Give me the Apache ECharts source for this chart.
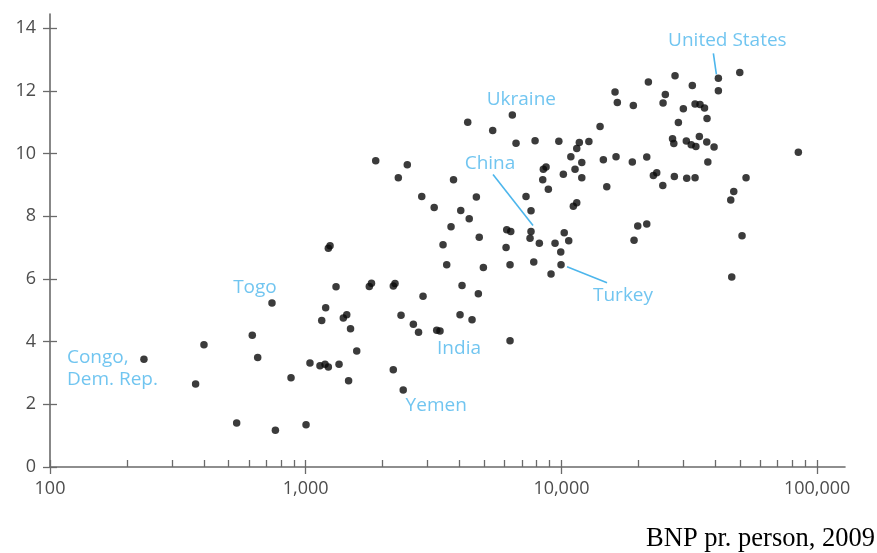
<!DOCTYPE html>
<html>
<head>
<meta charset="utf-8">
<script src="https://cdn.jsdelivr.net/npm/echarts@6/dist/echarts.min.js"></script>
<style>
  html, body { margin: 0; padding: 0; background: #fff; }
  #chart { width: 877px; height: 553px; }
</style>
</head>
<body>
<div id="chart"></div>
<script>
// GDP per person (log scale) against the index on the vertical axis, one dot per country
const gdp = [
  400, 371, 537, 618, 649, 761, 876, 1003, 1039, 1137, 1190, 1226, 1155, 1197, 1226, 1245,
  1314, 1350, 1403, 1447, 1497, 1471, 1583, 1773, 1808, 2201, 2235, 2200, 2359, 2636, 2762,
  2876, 3253, 3559, 4013, 4471, 4732, 6295, 1878, 2496, 2302, 2843, 3784, 4648, 3180, 4039,
  4359, 3700, 4771, 3443, 4951, 4086, 4301, 5386, 6644, 7887, 9768, 11749, 12805, 11479,
  10884, 8706, 8496, 12011, 10172, 11303, 12011, 8451, 8888, 7270, 7604, 11130, 11479, 6111,
  6335, 7536, 8195, 6073, 9441, 10254, 10679, 9938, 6295, 7794, 9106, 27810, 21875, 32500,
  49820, 41090, 16203, 16543, 19106, 25487, 24970, 29970, 33310, 34830, 36270, 37100, 28660,
  14158, 14585, 16350, 18935, 21560, 15040, 23590, 22880, 24910, 27640, 30900, 33310, 27190,
  27510, 30790, 32180, 33550, 34620, 37010, 39530, 37370, 52720, 47190, 45930, 50850, 46340,
  19880, 21560, 19230, 84410
];
const score = [
  3.90, 2.65, 1.40, 4.20, 3.49, 1.17, 2.85, 1.35, 3.32, 3.23, 3.28, 3.19, 4.67, 5.08, 6.98, 7.06,
  5.75, 3.28, 4.75, 4.86, 4.41, 2.75, 3.70, 5.76, 5.86, 5.77, 5.85, 3.10, 4.84, 4.55, 4.30,
  5.45, 4.36, 6.45, 4.86, 4.70, 5.53, 4.03, 9.77, 9.64, 9.23, 8.63, 9.16, 8.61, 8.28, 8.18,
  7.92, 7.66, 7.33, 7.09, 6.36, 5.79, 11.00, 10.73, 10.33, 10.41, 10.39, 10.35, 10.38, 10.16,
  9.90, 9.57, 9.50, 9.71, 9.34, 9.50, 9.23, 9.16, 8.86, 8.63, 8.17, 8.32, 8.43, 7.57,
  7.51, 7.30, 7.14, 7.00, 7.14, 7.47, 7.22, 6.86, 6.45, 6.54, 6.16, 12.48, 12.28, 12.17,
  12.58, 12.00, 11.96, 11.63, 11.53, 11.88, 11.61, 11.43, 11.58, 11.56, 11.45, 11.12, 10.99,
  10.86, 9.80, 9.90, 9.73, 9.89, 8.94, 9.39, 9.30, 8.98, 9.27, 9.21, 9.23, 10.47,
  10.32, 10.40, 10.28, 10.22, 10.54, 10.37, 10.21, 9.73, 9.23, 8.79, 8.52, 7.38, 6.06,
  7.69, 7.75, 7.23, 10.04
];

// Named countries
const labelNames = ['Congo, Dem. Rep.', 'Togo', 'Yemen', 'India', 'Ukraine', 'China', 'Turkey', 'United States'];
const labelGdp = [233, 738, 2406, 3351, 6427, 7604, 9963, 41090];
const labelScore = [3.44, 5.23, 2.46, 4.34, 11.23, 7.51, 6.45, 12.40];

// Axis ticks
const xMajorTicks = [100, 1000, 10000, 100000];
const xMinorTicks = [
  100, 200, 300, 400, 500, 600, 700, 800, 900,
  1000, 2000, 3000, 4000, 5000, 6000, 7000, 8000, 9000,
  10000, 20000, 30000, 40000, 50000, 60000, 70000, 80000, 90000,
  100000
];
const yTicks = [0, 2, 4, 6, 8, 10, 12, 14];
const footnote = 'BNP pr. person, 2009';

const AXIS_COLOR = '#6a6a6a';
const TICK_TEXT = '#4d4d4d';
const BLUE = '#4db6ec';
const DOT = '#0a0a0a';

// label anchor relative to its dot centre: [dx, dy, align]
const labelPlacement = {
  'Congo, Dem. Rep.': [-77, 9, 'left'],
  'Togo': [-17, -15, 'center'],
  'Yemen': [33, 16, 'center'],
  'India': [19, 18, 'center'],
  'Ukraine': [9, -15, 'center'],
  'China': [-41, -68, 'center'],
  'Turkey': [62, 31, 'center'],
  'United States': [9, -38, 'center']
};
// leader lines, as [start, end] pixel offsets from the dot centre
const leaderLines = {
  'China': [[-38, -57], [2, -6]],
  'Turkey': [[46, 18], [6, 2]],
  'United States': [[-5, -25], [-2, -4]]
};

const chart = echarts.init(document.getElementById('chart'), null, { renderer: 'canvas' });

const mainData = gdp.map((g, i) => [g, score[i]]);
const labelData = labelNames.map((name, i) => ({
  name: name,
  value: [labelGdp[i], labelScore[i]]
}));
const leaderData = labelNames
  .map((name, i) => ({ name: name, value: [labelGdp[i], labelScore[i]] }))
  .filter(d => leaderLines[d.name]);

const xCommon = {
  type: 'log',
  logBase: 10,
  min: 100,
  max: 128500,
  position: 'bottom',
  splitLine: { show: false },
  minorTick: { show: false }
};
const yCommon = {
  type: 'value',
  min: 0,
  max: 14.45,
  position: 'left',
  splitLine: { show: false }
};

chart.setOption({
  animation: false,
  backgroundColor: '#fff',
  title: {
    text: footnote,
    right: 2,
    top: 526,
    padding: 0,
    textStyle: { fontFamily: 'Liberation Serif', fontSize: 26.5, fontWeight: 'normal', color: '#000' }
  },
  grid: { left: 50, top: 14, width: 795, height: 453, containLabel: false },
  xAxis: [
    Object.assign({}, xCommon, {
      axisLine: { show: true, lineStyle: { color: AXIS_COLOR, width: 1.6 } },
      axisTick: { show: true, inside: false, length: 7, customValues: xMajorTicks, lineStyle: { color: AXIS_COLOR, width: 1.3 } },
      axisLabel: {
        show: true, customValues: xMajorTicks, margin: 13,
        color: TICK_TEXT, fontFamily: 'Open Sans', fontSize: 18,
        formatter: v => Number(v).toLocaleString('en-US')
      }
    }),
    Object.assign({}, xCommon, {
      axisLine: { show: false },
      axisTick: { show: true, inside: true, length: 7, customValues: xMinorTicks, lineStyle: { color: AXIS_COLOR, width: 1.3 } },
      axisLabel: { show: false }
    })
  ],
  yAxis: [
    Object.assign({}, yCommon, {
      axisLine: { show: true, lineStyle: { color: AXIS_COLOR, width: 1.6 } },
      axisTick: { show: true, inside: false, length: 7, customValues: yTicks, lineStyle: { color: AXIS_COLOR, width: 1.3 } },
      axisLabel: {
        show: true, customValues: yTicks, margin: 14,
        color: TICK_TEXT, fontFamily: 'Open Sans', fontSize: 18
      }
    }),
    Object.assign({}, yCommon, {
      axisLine: { show: false },
      axisTick: { show: true, inside: true, length: 7, customValues: yTicks, lineStyle: { color: AXIS_COLOR, width: 1.3 } },
      axisLabel: { show: false }
    })
  ],
  series: [
    {
      // leader lines from the label to its country's dot
      type: 'custom',
      xAxisIndex: 0,
      yAxisIndex: 0,
      silent: true,
      z: 1,
      renderItem: function (params, api) {
        const name = leaderData[params.dataIndex].name;
        const c = api.coord([api.value(0), api.value(1)]);
        const seg = leaderLines[name];
        return {
          type: 'line',
          shape: {
            x1: c[0] + seg[0][0], y1: c[1] + seg[0][1],
            x2: c[0] + seg[1][0], y2: c[1] + seg[1][1]
          },
          style: { stroke: BLUE, lineWidth: 1.6 }
        };
      },
      data: leaderData
    },
    {
      type: 'scatter',
      xAxisIndex: 0,
      yAxisIndex: 0,
      symbol: 'circle',
      symbolSize: 7.5,
      itemStyle: { color: DOT },
      emphasis: { disabled: true },
      z: 2,
      data: mainData
    },
    {
      type: 'scatter',
      xAxisIndex: 0,
      yAxisIndex: 0,
      symbol: 'circle',
      symbolSize: 7.5,
      itemStyle: { color: DOT },
      emphasis: { disabled: true },
      z: 2,
      label: {
        show: true,
        position: 'inside',
        color: BLUE,
        fontFamily: 'Open Sans',
        fontSize: 19,
        lineHeight: 22,
        formatter: p => p.name.replace(', ', ',\n')
      },
      labelLayout: function (params) {
        const place = labelPlacement[labelNames[params.dataIndex]];
        const cx = params.rect.x + params.rect.width / 2;
        const cy = params.rect.y + params.rect.height / 2;
        return { x: cx + place[0], y: cy + place[1], align: place[2], verticalAlign: 'middle' };
      },
      data: labelData
    }
  ]
});
</script>
</body>
</html>
